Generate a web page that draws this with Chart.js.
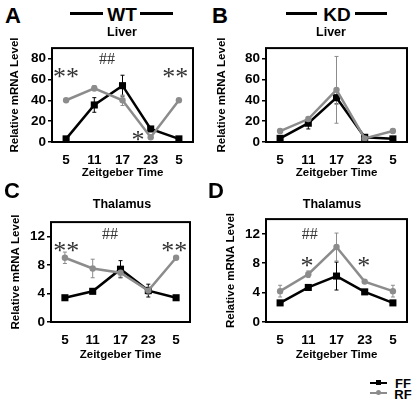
<!DOCTYPE html>
<html lang="en">
<head>
<meta charset="UTF-8">
<title>Relative mRNA Level</title>
<script src="https://cdn.jsdelivr.net/npm/chart.js"></script>
<style>
  body { margin: 0; background: #fff; }
  #fig { position: relative; width: 417px; height: 403px; font-family: "Liberation Sans", Arial, sans-serif; font-weight: bold; color: #000; }
  #fig canvas { position: absolute; }
  .t { position: absolute; transform: translate(-50%, -50%); white-space: nowrap; line-height: 1; }
  .bar { position: absolute; height: 3px; background: #000; }
</style>
</head>
<body>
<div id="fig">
  <canvas id="cA" width="207" height="142" style="left:0;top:38px"></canvas>
  <canvas id="cB" width="210" height="142" style="left:207px;top:38px"></canvas>
  <canvas id="cC" width="207" height="150" style="left:0;top:212px"></canvas>
  <canvas id="cD" width="210" height="153" style="left:207px;top:209px"></canvas>

  <div class="t" style="left:13px;top:16px;font-size:22px">A</div>
  <div class="t" style="left:220px;top:16px;font-size:22px">B</div>
  <div class="t" style="left:12px;top:191px;font-size:22px">C</div>
  <div class="t" style="left:216px;top:191px;font-size:22px">D</div>

  <div class="bar" style="left:70px;top:12px;width:33px"></div>
  <div class="t" style="left:122px;top:14px;font-size:19px">WT</div>
  <div class="bar" style="left:140px;top:12px;width:33px"></div>
  <div class="bar" style="left:286px;top:12px;width:31px"></div>
  <div class="t" style="left:337px;top:14px;font-size:19px">KD</div>
  <div class="bar" style="left:355px;top:12px;width:32px"></div>

  <div class="t" style="left:122px;top:32px;font-size:12.5px">Liver</div>
  <div class="t" style="left:331px;top:32px;font-size:12.5px">Liver</div>
  <div class="t" style="left:122px;top:204px;font-size:12.5px">Thalamus</div>
  <div class="t" style="left:332px;top:204px;font-size:12.5px">Thalamus</div>

  <div style="position:absolute;left:370px;top:382px;width:17px;height:2px;background:#000"></div>
  <div style="position:absolute;left:376px;top:380px;width:5px;height:5px;background:#000"></div>
  <div class="t" style="left:403px;top:383px;font-size:13px">FF</div>
  <div style="position:absolute;left:370px;top:392px;width:17px;height:2px;background:#8c8c8c"></div>
  <div style="position:absolute;left:376px;top:390px;width:5px;height:5px;border-radius:50%;background:#8c8c8c"></div>
  <div class="t" style="left:403px;top:394px;font-size:13px">RF</div>
</div>

<script>
// x categories (Zeitgeber time) and y tick values
const timeLabels = ['5', '11', '17', '23', '5'];
const liverTicks = [0, 20, 40, 60, 80];
const thalamusTicks = [0, 4, 8, 12];

// A: WT liver
const wtLiverFF = [3, 35.5, 54, 12.5, 3];
const wtLiverFFErr = [1, 7, 10, 1.5, 1];
const wtLiverRF = [40, 51.5, 40, 4.5, 40];
const wtLiverRFErr = [1.5, 2.5, 5, 1, 1.5];

// B: KD liver
const kdLiverFF = [3.5, 18, 42.5, 4.5, 3];
const kdLiverFFErr = [1, 5.5, 6, 1, 1];
const kdLiverRF = [10.5, 22, 50, 3.5, 10.5];
const kdLiverRFErr = [2, 2, 32, 1, 2];

// C: WT thalamus
const wtThalFF = [3.4, 4.3, 7.4, 4.4, 3.4];
const wtThalFFErr = [0.2, 0.3, 1.2, 0.9, 0.2];
const wtThalRF = [9.0, 7.5, 6.9, 4.4, 9.0];
const wtThalRFErr = [0.8, 1.3, 0.6, 0.5, 0.1];

// D: KD thalamus
const kdThalFF = [2.6, 4.7, 6.25, 4.1, 2.6];
const kdThalFFErr = [0.2, 0.2, 1.9, 0.2, 0.2];
const kdThalRF = [4.2, 6.5, 10.2, 5.5, 4.2];
const kdThalRFErr = [0.8, 0.45, 1.9, 0.2, 0.8];

// significance marks: [text, category position, value]
const marksA = [['**', 0, 66], ['##', 1.45, 80], ['*', 2.55, 6], ['**', 3.87, 66]];
const marksB = [];
const marksC = [['**', 0.05, 10.5], ['##', 1.62, 12.4], ['**', 3.93, 10.5]];
const marksD = [['*', 0.95, 8.1], ['##', 1.05, 12], ['*', 2.97, 8.1]];

const GRAY = '#8c8c8c';
const MARK_COLOR = '#333';

const extras = {
  id: 'extras',
  beforeDatasetsDraw(chart) {
    const ctx = chart.ctx, x = chart.scales.x, y = chart.scales.y;
    chart.data.datasets.forEach(ds => {
      ctx.save();
      ctx.strokeStyle = ds.borderColor;
      ctx.lineWidth = 1;
      ds.data.forEach((v, i) => {
        const e = ds.err[i];
        if (!e) return;
        const px = x.getPixelForValue(i);
        const top = y.getPixelForValue(v + e);
        const bot = y.getPixelForValue(Math.max(0, v - e));
        ctx.beginPath();
        ctx.moveTo(px, top); ctx.lineTo(px, bot);
        ctx.moveTo(px - 2, top); ctx.lineTo(px + 2, top);
        ctx.moveTo(px - 2, bot); ctx.lineTo(px + 2, bot);
        ctx.stroke();
      });
      ctx.restore();
    });
  },
  afterDraw(chart, args, opts) {
    const ctx = chart.ctx, a = chart.chartArea;
    ctx.save();
    ctx.strokeStyle = '#000';
    ctx.lineWidth = 2;
    ctx.strokeRect(a.left, a.top, a.right - a.left, a.bottom - a.top);
    ctx.fillStyle = MARK_COLOR;
    ctx.textAlign = 'center';
    ctx.textBaseline = 'alphabetic';
    (opts.marks || []).forEach(([txt, cx, cy]) => {
      ctx.font = txt === '##' ? '16px "Liberation Serif"' : '26px "Liberation Serif"';
      const m = ctx.measureText(txt);
      const px = chart.scales.x.getPixelForValue(cx);
      const py = chart.scales.y.getPixelForValue(cy);
      ctx.fillText(txt, px, py + (m.actualBoundingBoxAscent - m.actualBoundingBoxDescent) / 2);
    });
    ctx.restore();
  }
};

function makePanel(id, ff, ffErr, rf, rfErr, yMax, yTicks, marks, g) {
  new Chart(document.getElementById(id), {
    type: 'line',
    data: {
      labels: timeLabels,
      datasets: [
        { label: 'FF', data: ff, err: ffErr, borderColor: '#000', backgroundColor: '#000',
          borderWidth: 2.5, pointStyle: 'rect', pointRadius: 5, pointBorderWidth: 0, order: 1 },
        { label: 'RF', data: rf, err: rfErr, borderColor: GRAY, backgroundColor: GRAY,
          borderWidth: 2.5, pointStyle: 'circle', pointRadius: 3.2, pointBorderWidth: 0, order: 0 }
      ]
    },
    options: {
      responsive: false,
      animation: false,
      layout: { padding: { top: g.top, right: g.right, left: g.left, bottom: 0 } },
      plugins: { legend: { display: false }, tooltip: { enabled: false }, extras: { marks: marks } },
      scales: {
        x: {
          type: 'category', offset: true,
          grid: { display: false, drawTicks: false },
          border: { display: false },
          ticks: { color: '#000', font: { size: 13.5, weight: 'bold' }, padding: 10, maxRotation: 0, autoSkip: false },
          title: { display: true, text: 'Zeitgeber Time', color: '#000', font: { size: 11.5, weight: 'bold' }, padding: 0 },
          afterFit(s) { s.height = g.xh; }
        },
        y: {
          min: 0, max: yMax,
          afterBuildTicks(s) { s.ticks = yTicks.map(v => ({ value: v })); },
          grid: { drawOnChartArea: false, tickLength: 4, color: '#000', lineWidth: 1.5 },
          border: { display: false },
          ticks: { color: '#000', font: { size: 13.5, weight: 'bold' }, padding: 2 },
          title: { display: true, text: 'Relative mRNA Level', color: '#000', font: { size: 11.5, weight: 'bold' }, padding: 0 },
          afterFit(s) { s.width = g.yw; }
        }
      }
    },
    plugins: [extras]
  });
}

makePanel('cA', wtLiverFF, wtLiverFFErr, wtLiverRF, wtLiverRFErr, 90, liverTicks, marksA,
  { top: 5, right: 14, left: 8, yw: 44, xh: 38 });
makePanel('cB', kdLiverFF, kdLiverFFErr, kdLiverRF, kdLiverRFErr, 90, liverTicks, marksB,
  { top: 5, right: 10, left: 8, yw: 51, xh: 38 });
makePanel('cC', wtThalFF, wtThalFFErr, wtThalRF, wtThalRFErr, 14, thalamusTicks, marksC,
  { top: 5, right: 17, left: 9, yw: 42, xh: 40 });
makePanel('cD', kdThalFF, kdThalFFErr, kdThalRF, kdThalRFErr, 14, thalamusTicks, marksD,
  { top: 5, right: 10, left: 17, yw: 42, xh: 40 });
</script>
</body>
</html>
